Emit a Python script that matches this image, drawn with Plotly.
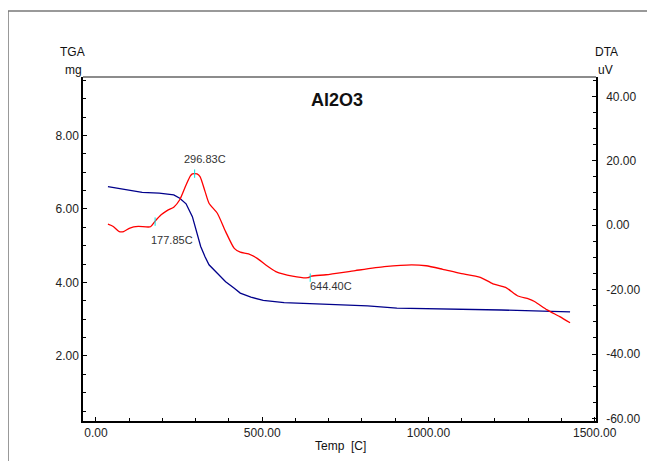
import plotly.graph_objects as go

# TGA (mg) vs temperature
tga_temp = [36, 89, 139, 190, 234, 252, 271, 290, 303, 315, 328, 340, 365, 390, 416, 434,
            466, 503, 566, 654, 717, 817, 905, 993, 1093, 1219, 1344, 1426]
tga_mass = [6.61, 6.52, 6.45, 6.43, 6.38, 6.29, 6.14, 5.79, 5.34, 4.98, 4.70, 4.48, 4.25, 4.02,
            3.84, 3.71, 3.60, 3.51, 3.45, 3.42, 3.38, 3.36, 3.30, 3.29, 3.27, 3.25, 3.22, 3.20]

# DTA (uV) vs temperature
dta_temp = [36, 52, 70, 83, 102, 127, 164, 177, 196, 215, 234, 252, 271, 284, 290, 296, 304,
            313, 328, 340, 365, 390, 416, 434, 459, 485, 510, 541, 591, 638, 648, 692, 780,
            867, 949, 993, 1043, 1093, 1156, 1194, 1232, 1269, 1301, 1319, 1357, 1395, 1426]
dta_uv = [0.3, -0.4, -2.0, -2.0, -0.9, -0.4, -0.5, 1.1, 3.2, 4.6, 5.6, 7.9, 12.5, 15.3, 15.9,
          16.0, 15.9, 15.1, 10.5, 6.8, 3.7, -2.0, -7.2, -8.4, -8.9, -10.3, -12.3, -14.4,
          -15.8, -16.3, -15.8, -15.4, -14.1, -12.9, -12.3, -12.6, -13.7, -14.9, -16.2,
          -18.2, -19.3, -22.0, -22.9, -23.7, -26.3, -28.4, -30.3]

# Marked peaks
peak_temp = [177.85, 296.83, 644.40]
peak_uv = [1.1, 16.0, -16.3]
peak_labels = ["177.85C", "296.83C", "644.40C"]

x_ticks = [0, 500, 1000, 1500]
y1_ticks = [2, 4, 6, 8]
y2_ticks = [-60, -40, -20, 0, 20, 40]

# page body adds an 8px offset; compensate
OFF = 8
W, H = 655 - OFF, 461 - OFF
L, R, T, B = 83 - OFF, 59, 77 - OFF, 40
pw, ph = W - L - R, H - T - B


def px(xp):
    return (xp - OFF - L) / pw


def py(yp):
    return (H - B - (yp - OFF)) / ph


fig = go.Figure()
fig.add_trace(go.Scatter(x=tga_temp, y=tga_mass, mode="lines",
                         line=dict(color="#00008b", width=1.3), yaxis="y"))
fig.add_trace(go.Scatter(x=dta_temp, y=dta_uv, mode="lines", line_shape="spline",
                         line=dict(color="#ff0000", width=1.3, smoothing=0.6), yaxis="y2"))
fig.add_trace(go.Scatter(x=peak_temp, y=peak_uv, mode="markers", yaxis="y2",
                         marker=dict(symbol="line-ns", size=6, color="#00e5e5",
                                     line=dict(color="#00e5e5", width=1))))

font = dict(family="Liberation Sans, Arial, sans-serif", size=12, color="#222")

fig.update_layout(
    width=W, height=H,
    margin=dict(l=L, r=R, t=T, b=B),
    paper_bgcolor="white", plot_bgcolor="white",
    showlegend=False,
    font=font,
    xaxis=dict(range=[-39, 1504], tickvals=x_ticks,
               ticktext=[f"{v:.2f}" for v in x_ticks],
               showline=True, linecolor="black", linewidth=1.5,
               ticks="inside", ticklen=4, tickcolor="black",
               minor=dict(dtick=100, tick0=0, ticks="inside", ticklen=3, tickcolor="black"),
               showgrid=False, zeroline=False, tickfont=font),
    yaxis=dict(range=[0.23, 9.59], tickvals=y1_ticks,
               ticktext=[f"{v:.2f}" for v in y1_ticks],
               showline=True, linecolor="black", linewidth=1.5,
               ticks="inside", ticklen=4, tickcolor="black",
               minor=dict(dtick=0.5, tick0=0, ticks="inside", ticklen=3, tickcolor="black"),
               showgrid=False, zeroline=False, tickfont=font),
    yaxis2=dict(range=[-60.8, 46], tickvals=y2_ticks,
                ticktext=[f"{v:.2f}" for v in y2_ticks],
                overlaying="y", side="right", anchor="x",
                showline=True, linecolor="black", linewidth=1.5,
                ticks="inside", ticklen=4, tickcolor="black", ticklabelstandoff=6,
                minor=dict(dtick=5, tick0=0, ticks="inside", ticklen=3, tickcolor="black"),
                showgrid=False, zeroline=False, tickfont=font),
)

# frame lines
fig.add_shape(type="line", xref="paper", yref="paper", x0=0, x1=1, y0=1, y1=1,
              line=dict(color="#666", width=1.5))
fig.add_shape(type="line", xref="paper", yref="paper", x0=px(8), x1=px(700), y0=py(11), y1=py(11),
              line=dict(color="#777", width=1.5))
fig.add_shape(type="line", xref="paper", yref="paper", x0=px(8), x1=px(8), y0=py(11), y1=py(500),
              line=dict(color="#777", width=1.5))


def ann(text, xp, yp, size=12, bold=False):
    fig.add_annotation(text=f"<b>{text}</b>" if bold else text, xref="paper", yref="paper",
                       x=px(xp), y=py(yp), xanchor="center", yanchor="middle",
                       showarrow=False, font=dict(family=font["family"], size=size, color="#111"))


ann("Al2O3", 337, 100, size=18, bold=True)
ann("TGA", 72, 52)
ann("mg", 73, 70)
ann("DTA", 606, 52)
ann("uV", 605, 70)
ann("Temp  [C]", 340, 446)

# peak labels
label_pos = [(228, -4.6), (327, 20.6), (707, -18.8)]
for lab, (lx, ly) in zip(peak_labels, label_pos):
    fig.add_annotation(text=lab, x=lx, y=ly, xref="x", yref="y2", showarrow=False,
                       xanchor="center", yanchor="middle",
                       font=dict(family=font["family"], size=11, color="#333"))

fig.write_html("out.html")
